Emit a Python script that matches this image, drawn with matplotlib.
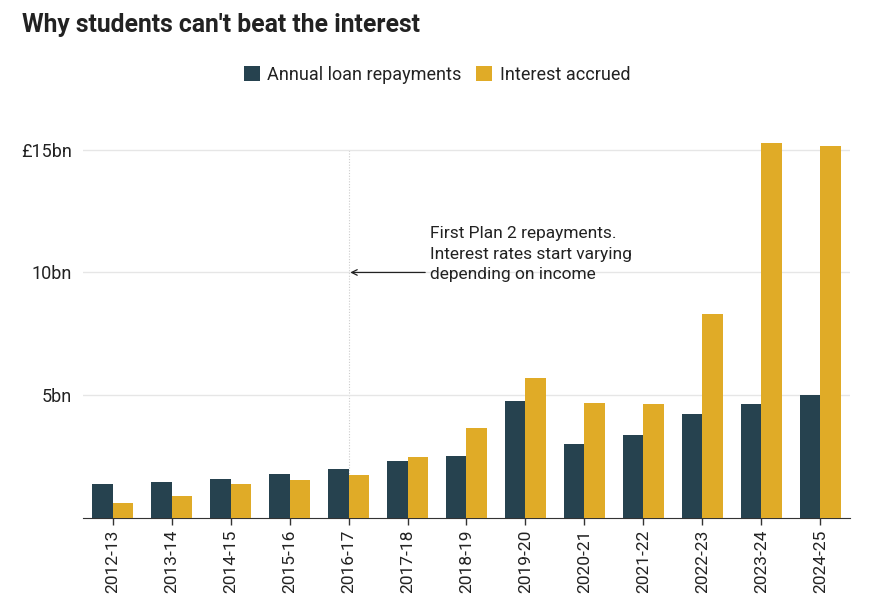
import matplotlib
matplotlib.use('Agg')
import matplotlib.pyplot as plt
import numpy as np

plt.rcParams['font.family'] = ['Roboto', 'DejaVu Sans']

years = ['2012-13', '2013-14', '2014-15', '2015-16', '2016-17', '2017-18', '2018-19',
         '2019-20', '2020-21', '2021-22', '2022-23', '2023-24', '2024-25']
repayments = [1.39, 1.47, 1.59, 1.79, 2.0, 2.32, 2.53, 4.77, 3.02, 3.38, 4.24, 4.65, 5.01]
interest = [0.61, 0.90, 1.39, 1.55, 1.75, 2.49, 3.67, 5.70, 4.69, 4.65, 8.31, 15.28, 15.16]
ytick_vals = [5, 10, 15]
ytick_labels = ['5bn', '10bn', '£15bn']

dark = '#26424f'
gold = '#e0ab27'
text_col = '#222222'

fig = plt.figure(figsize=(8.74, 6.16), dpi=100)
ax = fig.add_axes([0.095, 0.159, 0.8775, 0.614])

x = np.arange(len(years))
w = 0.355
ax.bar(x - w / 2, repayments, w, color=dark, label='Annual loan repayments', zorder=3)
ax.bar(x + w / 2, interest, w, color=gold, label='Interest accrued', zorder=3)

ax.set_xlim(-0.5, len(years) - 0.5)
ax.set_ylim(0, 15.4)
ax.set_yticks(ytick_vals, ytick_labels)
ax.set_xticks(x, years, rotation=90)
ax.yaxis.grid(True, color='#e6e6e6', linewidth=1, zorder=0)
ax.tick_params(axis='y', length=0, pad=8, labelsize=13, labelcolor=text_col)
ax.tick_params(axis='x', length=5, width=1, color='#333333', labelsize=12.5, labelcolor=text_col)
for s in ['top', 'right', 'left']:
    ax.spines[s].set_visible(False)
ax.spines['bottom'].set_color('#333333')

# marker line for 2016-17
ax.axvline(4, ymin=0, ymax=0.975, color='#cccccc', linestyle=(0, (1, 1.5)), linewidth=0.8, zorder=1)
ax.annotate('', xy=(4.03, 10), xytext=(5.3, 10),
            arrowprops=dict(arrowstyle='->', color=text_col, lw=0.9, shrinkA=0, shrinkB=0))
ax.text(5.38, 10.75, 'First Plan 2 repayments.\nInterest rates start varying\ndepending on income',
        va='center', ha='left', fontsize=12.5, color=text_col, linespacing=1.45)

fig.text(0.025, 0.96, "Why students can't beat the interest", fontsize=17.8,
         fontweight='bold', color=text_col, va='center')
fig.legend(loc='center', bbox_to_anchor=(0.5, 0.878), ncol=2, frameon=False,
           fontsize=13, handlelength=0.9, handleheight=0.9, handletextpad=0.4,
           columnspacing=0.8, labelcolor=text_col)

plt.savefig('out.png')
